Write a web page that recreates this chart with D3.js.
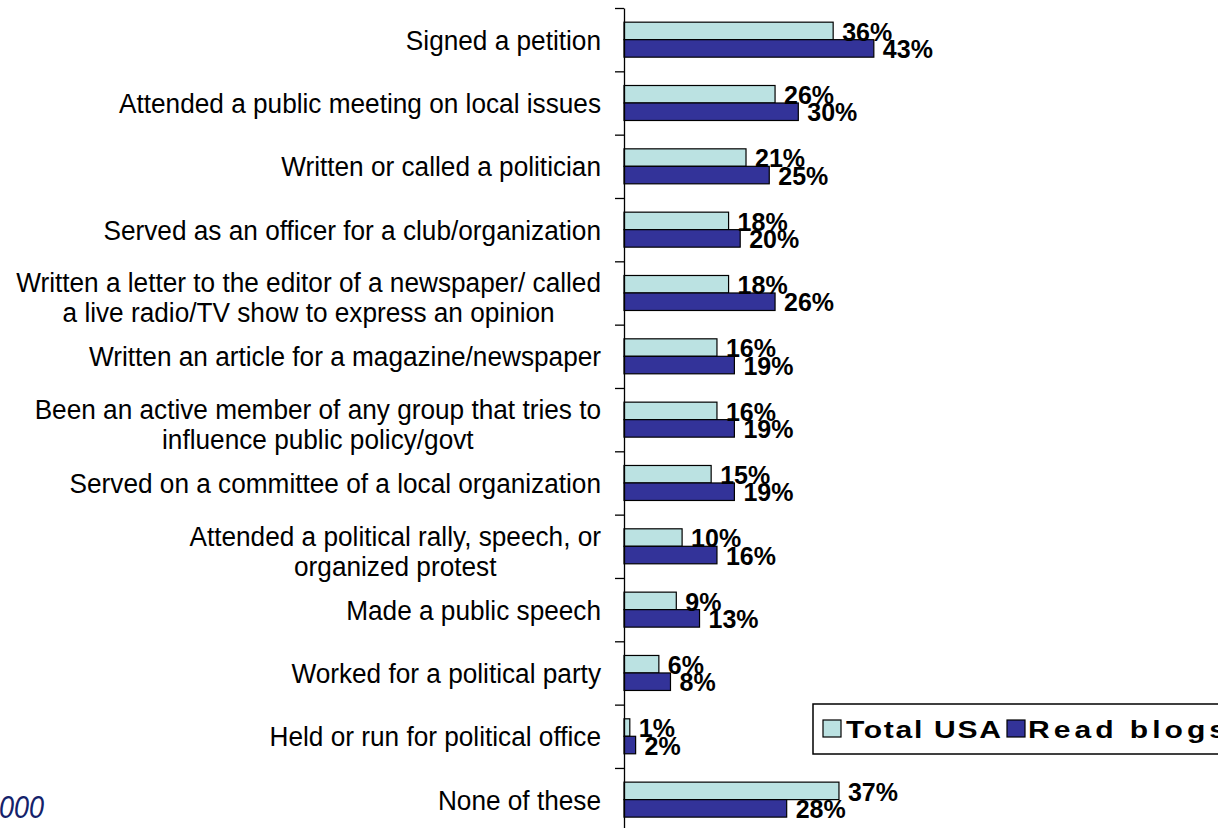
<!DOCTYPE html>
<html>
<head>
<meta charset="utf-8">
<script src="https://cdn.jsdelivr.net/npm/d3@7/dist/d3.min.js"></script>
<style>
  html, body { margin: 0; padding: 0; background: #ffffff; }
  svg { display: block; }
  text { font-family: "Liberation Sans", Arial, sans-serif; }
</style>
</head>
<body>
<svg id="chart" width="1218" height="828"></svg>
<script>
// ---- data ----
const categories = [
  ["Signed a petition"],
  ["Attended a public meeting on local issues"],
  ["Written or called a politician"],
  ["Served as an officer for a club/organization"],
  ["Written a letter to the editor of a newspaper/ called", "a live radio/TV show to express an opinion"],
  ["Written an article for a magazine/newspaper"],
  ["Been an active member of any group that tries to", "influence public policy/govt"],
  ["Served on a committee of a local organization"],
  ["Attended a political rally, speech, or", "organized protest"],
  ["Made a public speech"],
  ["Worked for a political party"],
  ["Held or run for political office"],
  ["None of these"]
];
const seriesNames = ["Total USA", "Read blogs"];
const totalUSA  = [36, 26, 21, 18, 18, 16, 16, 15, 10, 9, 6, 1, 37];
const readBlogs = [43, 30, 25, 20, 26, 19, 19, 19, 16, 13, 8, 2, 28];
const seriesColors = ["#BBE2E2", "#333399"];
const footnote = "000";

// ---- layout ----
const svg = d3.select("#chart");
const axisX = 624;
const x = d3.scaleLinear().domain([0, 100]).range([axisX, axisX + 581]);
const idx = d3.range(categories.length);
const yLin = d3.scaleLinear().domain([0, categories.length]).range([8, 8 + 63.33 * categories.length]);
const y = d3.scaleBand().domain(idx).range(yLin.range()).paddingInner(0).paddingOuter(0);
const ySub = d3.scaleBand().domain(seriesNames).range([0, y.bandwidth()]).paddingInner(0).paddingOuter(0.81);

const rows = idx.map(i => ({ i, values: [totalUSA[i], readBlogs[i]] }));

// bars
const g = svg.append("g");
const groups = g.selectAll("g.cat").data(rows).join("g")
  .attr("class", "cat")
  .attr("transform", d => `translate(0,${y(d.i)})`);

groups.selectAll("rect").data(d => d.values.map((v, k) => ({ v, k })))
  .join("rect")
  .attr("x", x(0))
  .attr("y", d => ySub(seriesNames[d.k]))
  .attr("width", d => x(d.v) - x(0))
  .attr("height", ySub.bandwidth())
  .attr("fill", d => seriesColors[d.k])
  .attr("stroke", "#000")
  .attr("stroke-width", 1.2);

groups.selectAll("g.val").data(d => d.values.map((v, k) => ({ v, k })))
  .join("g")
  .attr("class", "val")
  .attr("transform", d => `translate(${x(d.v) + 9},${ySub(seriesNames[d.k]) + ySub.bandwidth() + 1}) scale(1,1.06)`)
  .append("text")
  .attr("font-size", 25)
  .attr("font-weight", "bold")
  .attr("fill", "#000")
  .text(d => d.v + "%");

// axis
const axis = d3.axisLeft(yLin).tickValues(d3.range(0, categories.length)).tickFormat("").tickSize(9).tickSizeOuter(0);
const ax = svg.append("g").attr("transform", `translate(${axisX},0)`).call(axis);
ax.selectAll("path, line").attr("stroke", "#000").attr("stroke-width", 1.3);

// category labels
const sy = 1.07;
const fs = 26.2;
const labelRight = 601;
idx.forEach(i => {
  const lines = categories[i];
  const cy = y(i) + y.bandwidth() / 2;
  if (lines.length === 1) {
    svg.append("g")
      .attr("transform", `translate(${labelRight},${cy + 10}) scale(1,${sy})`)
      .append("text")
      .attr("text-anchor", "end")
      .attr("font-size", fs)
      .attr("fill", "#000")
      .text(lines[0]);
  } else {
    const gg = svg.append("g")
      .attr("transform", `translate(${labelRight},${cy - 0.5}) scale(1,${sy})`);
    const t = gg.append("text").attr("font-size", fs).attr("fill", "#000").attr("text-anchor", "middle");
    const spans = lines.map((l, j) => t.append("tspan").attr("x", 0).attr("dy", j === 0 ? 0 : 30 / sy).text(l));
    const w = d3.max(spans, s => s.node().getComputedTextLength());
    spans.forEach(s => s.attr("x", -w / 2));
  }
});

// legend
const lg = svg.append("g");
lg.append("rect").attr("x", 813).attr("y", 704).attr("width", 430).attr("height", 50)
  .attr("fill", "#fff").attr("stroke", "#000").attr("stroke-width", 1.5);
const lsx = 1.28;
const legendItems = [
  { name: seriesNames[0], color: seriesColors[0], sx: 823, tx: 846, len: 155 },
  { name: seriesNames[1], color: seriesColors[1], sx: 1007, tx: 1028, len: 198 }
];
legendItems.forEach(it => {
  lg.append("rect").attr("x", it.sx).attr("y", 720).attr("width", 18).attr("height", 17)
    .attr("fill", it.color).attr("stroke", "#000").attr("stroke-width", 1.2);
  lg.append("g").attr("transform", `translate(${it.tx},738) scale(${lsx},1)`)
    .append("text")
    .attr("font-size", 23.5).attr("font-weight", "bold").attr("fill", "#000")
    .attr("textLength", it.len / lsx).attr("lengthAdjust", "spacing")
    .text(it.name);
});

// cropped footnote at bottom-left
svg.append("g").attr("transform", `translate(-1,818) scale(1,1.15)`)
  .append("text").attr("font-size", 27).attr("font-style", "italic").attr("fill", "#14226a")
  .text(footnote);
</script>
</body>
</html>
